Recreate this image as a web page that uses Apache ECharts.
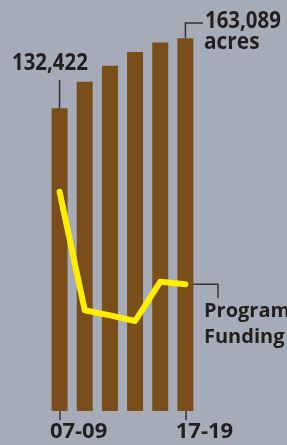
<!DOCTYPE html>
<html>
<head>
<meta charset="utf-8">
<script src="https://cdn.jsdelivr.net/npm/echarts@6/dist/echarts.min.js"></script>
<style>
  html, body { margin: 0; padding: 0; background: #a5acb8; }
  #main { width: 287px; height: 445px; }
</style>
</head>
<body>
<div id="main"></div>
<script>
var periods = ['07-09', '09-11', '11-13', '13-15', '15-17', '17-19'];
var acres = [132422, 144100, 151000, 157100, 161200, 163089];
// program funding, relative units (no scale shown)
var funding = [54.8, 25.2, 23.9, 22.5, 32.3, 31.7];
var shownTicks = [0, 5];

(function setchart(){
    var chart = echarts.init(document.getElementById('main'));
    var textColor = '#231f20';
    var font = '"Open Sans", "Noto Sans", sans-serif';
    var option = {
        backgroundColor: '#a5acb8',
        animation: false,
        grid: {left: 47, right: 89, top: 11, bottom: 34},
        xAxis: {
            type: 'category',
            data: periods,
            axisLine: {show: false},
            axisTick: {
                show: true,
                alignWithLabel: true,
                length: 9,
                interval: function (i) { return shownTicks.indexOf(i) >= 0; },
                lineStyle: {color: '#333', width: 1.5}
            },
            axisLabel: {
                interval: function (i) { return shownTicks.indexOf(i) >= 0; },
                margin: 10,
                fontFamily: font,
                fontWeight: 'bold',
                fontSize: 22,
                color: textColor,
                padding: [0, 0, 0, 38]
            }
        },
        yAxis: [
            {type: 'value', min: 0, max: 175000, show: false},
            {type: 'value', min: 0, max: 100, show: false}
        ],
        series: [
            {
                type: 'bar',
                data: acres,
                barWidth: 16,
                itemStyle: {color: '#7a4e1a'}
            },
            {
                type: 'line',
                yAxisIndex: 1,
                data: funding,
                symbol: 'none',
                lineStyle: {color: '#ffee00', width: 6, cap: 'round', join: 'round'}
            }
        ]
    };
    chart.setOption(option);

    var p0 = chart.convertToPixel({xAxisIndex: 0, yAxisIndex: 0}, [0, acres[0]]);
    var p5 = chart.convertToPixel({xAxisIndex: 0, yAxisIndex: 0}, [5, acres[5]]);
    var f5 = chart.convertToPixel({xAxisIndex: 0, yAxisIndex: 1}, [5, funding[5]]);
    var lineStyle = {stroke: '#333', lineWidth: 1.5, fill: null};
    var txt = function (x, y, s, size, sx) {
        return {type: 'text', x: x, y: y, scaleX: sx,
            style: {text: s, x: 0, y: 0, verticalAlign: 'top', fill: textColor,
                font: 'bold ' + size + 'px ' + font}};
    };
    chart.setOption({
        graphic: [
            {type: 'polyline', shape: {points: [[p0[0], p0[1]], [p0[0], 80]]}, style: lineStyle},
            {type: 'polyline', shape: {points: [[p5[0], p5[1]], [p5[0], 23], [203, 23]]}, style: lineStyle},
            {type: 'polyline', shape: {points: [[f5[0] + 3, f5[1]], [218, f5[1]], [218, 298]]}, style: lineStyle},
            txt(12, 51, '132,422', 24, 0.85),
            txt(205, 9, '163,089', 24, 0.85),
            txt(204, 30, 'acres', 24, 0.87),
            txt(204, 301, 'Program', 20, 1),
            txt(204, 327, 'Funding', 20, 1)
        ]
    });
})();
</script>
</body>
</html>
